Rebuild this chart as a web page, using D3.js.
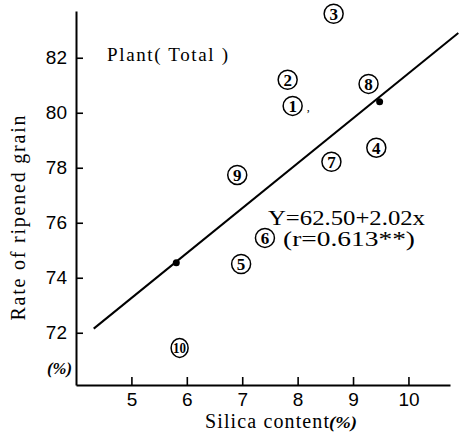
<!DOCTYPE html>
<html>
<head>
<meta charset="utf-8">
<script src="https://cdn.jsdelivr.net/npm/d3@7"></script>
<style>
  body { margin: 0; background: #fff; }
  svg text { fill: #000; }
</style>
</head>
<body>
<div id="chart"></div>
<script>
// data
var plantIds = [1, 2, 3, 4, 5, 6, 7, 8, 9, 10];
var silica = [7.91, 7.82, 8.65, 9.42, 6.98, 7.41, 8.61, 9.28, 6.91, 5.87];
var ripened = [80.25, 81.2, 83.6, 78.73, 74.5, 75.45, 78.22, 81.05, 77.74, 71.45];

// regression line as drawn, and the two dots on it
var lineX = [4.32, 10.9];
var lineY = [72.15, 82.9];
var dotX = [5.81, 9.48];
var dotY = [74.55, 80.4];

var xTicks = [5, 6, 7, 8, 9, 10];
var yTicks = [72, 74, 76, 78, 80, 82];

var width = 459,
    height = 436;

var svg = d3.select("#chart")
    .append("svg")
    .attr("width", width)
    .attr("height", height);

var x = d3.scaleLinear().domain([4, 10.75]).range([76, 450]);
var y = d3.scaleLinear().domain([70.1, 83.7]).range([385, 11]);

// axes - ticks point inward
var xAxis = svg.append("g")
    .attr("transform", "translate(0," + y.range()[0] + ")")
    .call(d3.axisBottom(x).tickValues(xTicks).tickFormat(d3.format("d"))
        .tickSizeInner(-8).tickSizeOuter(0).tickPadding(8));
var yAxis = svg.append("g")
    .attr("transform", "translate(" + x.range()[0] + ",0)")
    .call(d3.axisLeft(y).tickValues(yTicks).tickFormat(d3.format("d"))
        .tickSizeInner(-7).tickSizeOuter(0).tickPadding(8));

svg.selectAll(".domain").attr("stroke", "#000").attr("stroke-width", 2);
svg.selectAll(".tick line").attr("stroke", "#000").attr("stroke-width", 1.6);
svg.selectAll(".tick text")
    .attr("font-family", "Liberation Sans, Arial, sans-serif")
    .attr("font-size", 19)
    .attr("fill", "#000");
yAxis.selectAll(".tick text").attr("dx", "-1");
xAxis.selectAll(".tick text").attr("dy", "0.68em");

// axis titles
svg.append("text")
    .attr("transform", "translate(25,218) rotate(-90)")
    .attr("text-anchor", "middle")
    .attr("font-family", "Liberation Serif, serif")
    .attr("font-size", 20)
    .attr("textLength", 205)
    .attr("lengthAdjust", "spacing")
    .text("Rate of ripened grain");

svg.append("text")
    .attr("x", 205)
    .attr("y", 428)
    .attr("font-family", "Liberation Serif, serif")
    .attr("font-size", 20)
    .attr("textLength", 124)
    .attr("lengthAdjust", "spacing")
    .text("Silica content");
svg.append("text")
    .attr("x", 329)
    .attr("y", 428)
    .attr("font-family", "Liberation Serif, serif")
    .attr("font-size", 16)
    .attr("font-style", "italic")
    .attr("font-weight", "bold")
    .attr("textLength", 28)
    .attr("lengthAdjust", "spacingAndGlyphs")
    .text("(%)");

svg.append("text")
    .attr("x", 47)
    .attr("y", 374)
    .attr("font-family", "Liberation Serif, serif")
    .attr("font-size", 16)
    .attr("font-style", "italic")
    .attr("font-weight", "bold")
    .attr("textLength", 25)
    .attr("lengthAdjust", "spacingAndGlyphs")
    .text("(%)");

// panel label
svg.append("text")
    .attr("x", 107)
    .attr("y", 61)
    .attr("font-family", "Liberation Serif, serif")
    .attr("font-size", 19)
    .attr("textLength", 121)
    .attr("lengthAdjust", "spacing")
    .text("Plant( Total )");

// regression line
svg.append("line")
    .attr("x1", x(lineX[0]))
    .attr("y1", y(lineY[0]))
    .attr("x2", x(lineX[1]))
    .attr("y2", y(lineY[1]))
    .attr("stroke", "#000")
    .attr("stroke-width", 2);

svg.selectAll(".dot")
    .data(dotX)
    .enter()
    .append("circle")
    .attr("class", "dot")
    .attr("cx", function (d) { return x(d); })
    .attr("cy", function (d, i) { return y(dotY[i]); })
    .attr("r", 3.5)
    .attr("fill", "#000");

// equation
svg.append("text")
    .attr("x", 268)
    .attr("y", 225)
    .attr("font-family", "Liberation Serif, serif")
    .attr("font-size", 20)
    .attr("textLength", 157)
    .attr("lengthAdjust", "spacingAndGlyphs")
    .text("Y=62.50+2.02x");
svg.append("text")
    .attr("x", 283)
    .attr("y", 246)
    .attr("font-family", "Liberation Serif, serif")
    .attr("font-size", 20)
    .attr("textLength", 132)
    .attr("lengthAdjust", "spacingAndGlyphs")
    .text("(r=0.613**)");

// circled plant numbers
var pts = svg.append("g")
    .selectAll("g")
    .data(plantIds)
    .enter()
    .append("g")
    .attr("transform", function (d, i) {
        return "translate(" + x(silica[i]) + "," + y(ripened[i]) + ")";
    });

pts.append("ellipse")
    .attr("rx", function (d) { return d == 10 ? 8.5 : 9.5; })
    .attr("ry", 9.5)
    .attr("fill", "none")
    .attr("stroke", "#000")
    .attr("stroke-width", 1.5);

pts.append("text")
    .attr("text-anchor", "middle")
    .attr("dy", "0.36em")
    .attr("font-family", "Liberation Serif, serif")
    .attr("font-weight", "bold")
    .attr("font-size", function (d) { return d == 10 ? 15 : 17; })
    .attr("textLength", function (d) { return d == 10 ? 13 : null; })
    .attr("lengthAdjust", "spacingAndGlyphs")
    .text(function (d) { return d; });

// stray mark next to plant 1
svg.append("text")
    .attr("x", x(silica[0]) + 14)
    .attr("y", y(ripened[0]) + 5)
    .attr("font-family", "Liberation Serif, serif")
    .attr("font-size", 12)
    .text(",");
</script>
</body>
</html>
